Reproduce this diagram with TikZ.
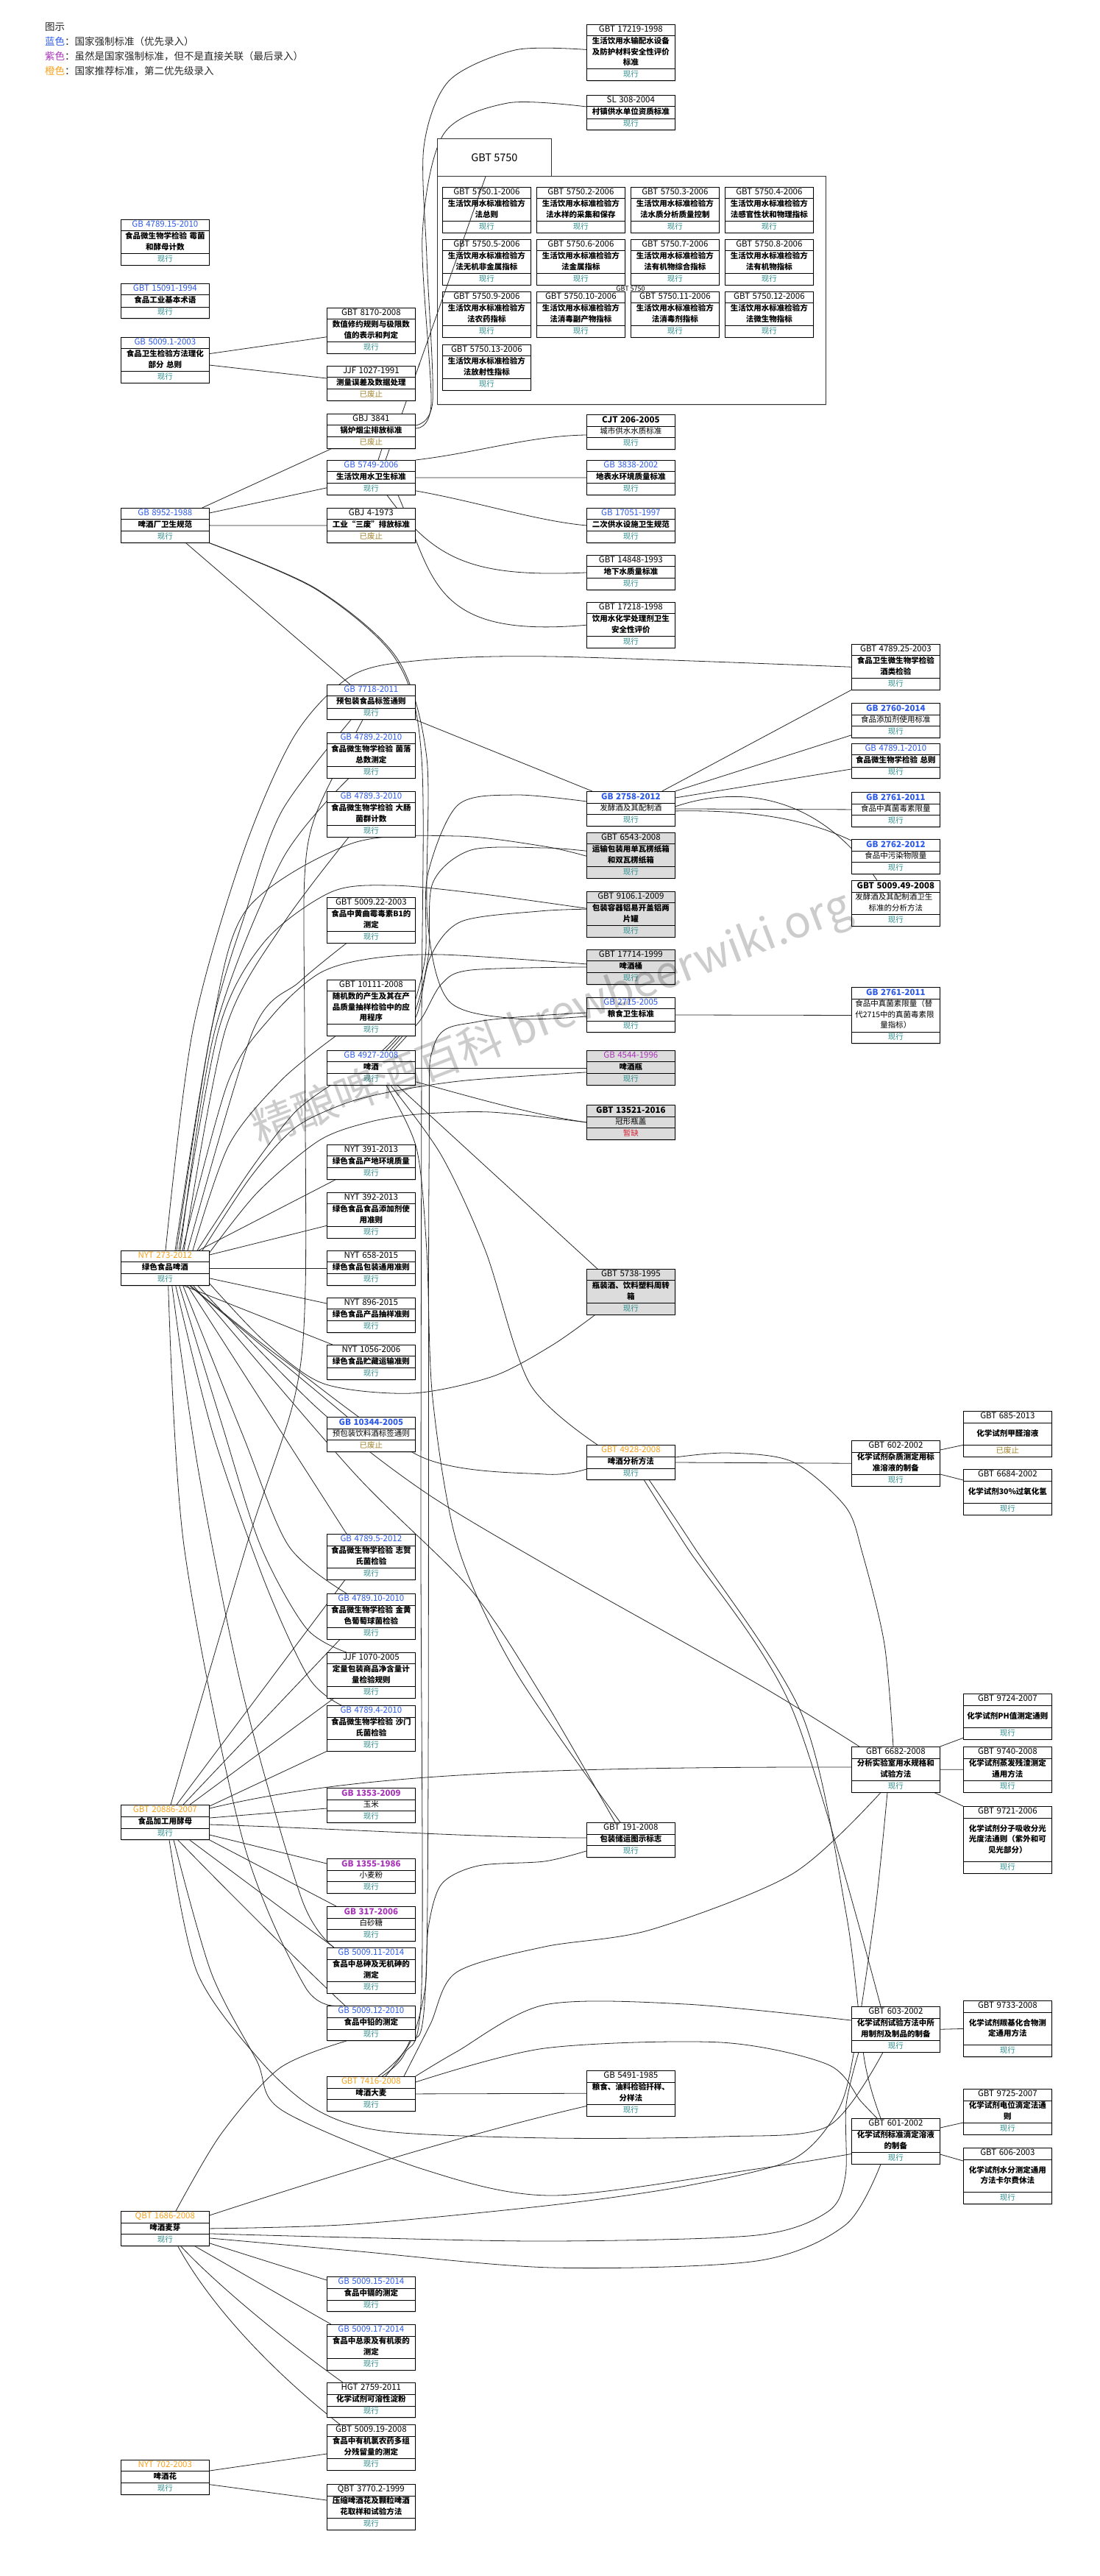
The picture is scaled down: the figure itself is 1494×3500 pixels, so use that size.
\documentclass[tikz,border=0pt]{standalone}
\usepackage{fontspec}
\setmainfont{Noto Sans CJK SC}
\usetikzlibrary{shapes.multipart,shadows,calc}

\definecolor{tblue}{HTML}{2E5BEA}
\definecolor{tpurple}{HTML}{A834B8}
\definecolor{torange}{HTML}{F5A11C}
\definecolor{steal}{HTML}{2B8C8C}
\definecolor{solive}{HTML}{A3842E}
\definecolor{sred}{HTML}{D62839}
\definecolor{pkggray}{HTML}{DCDCDC}

\pgfdeclarelayer{background}
\pgfdeclarelayer{foreground}
\pgfsetlayers{background,main,foreground}

\tikzset{
  stdbox/.style={rectangle split, rectangle split parts=3, draw=black, line width=0.7pt,
    fill=white, text width=110pt, inner xsep=5pt, inner ysep=1.6pt, align=center,
    anchor=north west, font=\fontsize{10.5}{14.5}\selectfont,
    drop shadow={shadow xshift=1pt, shadow yshift=-1.3pt, opacity=0.35}},
  pkgbox/.style={stdbox, fill=pkggray},
  groupbox/.style={draw=black!80, line width=0.8pt, fill=white, anchor=north west, inner sep=0pt,
    drop shadow={shadow xshift=1pt, shadow yshift=-1.3pt, opacity=0.3}},
  link/.style={draw=black!85, line width=0.8pt}
}

\newcommand{\st}{\rule[-3pt]{0pt}{9.8pt}}
\newcommand{\tf}{\fontsize{11.5}{14.5}\selectfont}
\newcommand{\tall}[1]{\rule{0pt}{16.5pt}#1\rule[-10pt]{0pt}{10pt}}
\newcommand{\bl}[1]{\textcolor{tblue}{#1}}
\newcommand{\pu}[1]{\textcolor{tpurple}{#1}}
\newcommand{\og}[1]{\textcolor{torange}{#1}}
\newcommand{\zx}{\textcolor{steal}{现行}}
\newcommand{\yfz}{\textcolor{solive}{已废止}}
\newcommand{\zq}{\textcolor{sred}{暂缺}}
\newcommand{\stdnode}[6][stdbox]{\node[#1] (#2) at (#3) {\tf\st#4\st\nodepart{two}\bfseries\st#5\st\nodepart{three}\raggedright\st#6\st};}
\newcommand{\plainnode}[6][stdbox]{\node[#1] (#2) at (#3) {\tf\bfseries\st#4\st\nodepart{two}\raggedright\st#5\st\nodepart{three}\raggedright\st#6\st};}

\begin{document}
\begin{tikzpicture}[x=1pt, y=-1pt]
\useasboundingbox (0,0) rectangle (1494,3500);

\node[anchor=north west, inner sep=0pt, align=left, text=black!85, font=\fontsize{13.5}{19.8}\selectfont] (legend) at (61,31)
  {图示\\\textcolor{tblue}{蓝色}：国家强制标准（优先录入）\\\textcolor{tpurple}{紫色}：虽然是国家强制标准，但不是直接关联（最后录入）\\\textcolor{torange}{橙色}：国家推荐标准，第二优先级录入};

\stdnode{gb478915}{164,298}{\bl{GB 4789.15-2010}}{食品微生物学检验~霉菌\\和酵母计数}{\zx}
\stdnode{gbt15091}{164,385}{\bl{GBT 15091-1994}}{食品工业基本术语}{\zx}
\stdnode{gb50091}{164,458}{\bl{GB 5009.1-2003}}{食品卫生检验方法理化\\部分~总则}{\zx}
\stdnode{gb8952}{164,690}{\bl{GB 8952-1988}}{啤酒厂卫生规范}{\zx}
\stdnode{nyt273}{164,1699}{\og{NYT 273-2012}}{绿色食品啤酒}{\zx}
\stdnode{gbt20886}{164,2452}{\og{GBT 20886-2007}}{食品加工用酵母}{\zx}
\stdnode{qbt1686}{164,3004}{\og{QBT 1686-2008}}{啤酒麦芽}{\zx}
\stdnode{nyt702}{164,3342}{\og{NYT 702-2003}}{啤酒花}{\zx}

\stdnode{gbt8170}{444,418}{GBT 8170-2008}{数值修约规则与极限数\\值的表示和判定}{\zx}
\stdnode{jjf1027}{444,497}{JJF 1027-1991}{测量误差及数据处理}{\yfz}
\stdnode{gbj3841}{444,562}{GBJ 3841}{锅炉烟尘排放标准}{\yfz}
\stdnode{gb5749}{444,625}{\bl{GB 5749-2006}}{生活饮用水卫生标准}{\zx}
\stdnode{gbj4}{444,690}{GBJ 4-1973}{工业“三废”排放标准}{\yfz}
\stdnode{gb7718}{444,930}{\bl{GB 7718-2011}}{预包装食品标签通则}{\zx}
\stdnode{gb47892}{444,995}{\bl{GB 4789.2-2010}}{食品微生物学检验~菌落\\总数测定}{\zx}
\stdnode{gb47893}{444,1075}{\bl{GB 4789.3-2010}}{食品微生物学检验~大肠\\菌群计数}{\zx}
\stdnode{gbt500922}{444,1219}{GBT 5009.22-2003}{食品中黄曲霉毒素B1的\\测定}{\zx}
\stdnode{gbt10111}{444,1331}{GBT 10111-2008}{随机数的产生及其在产\\品质量抽样检验中的应\\用程序}{\zx}
\stdnode{gb4927}{444,1427}{\bl{GB 4927-2008}}{啤酒}{\zx}
\stdnode{nyt391}{444,1555}{NYT 391-2013}{绿色食品产地环境质量}{\zx}
\stdnode{nyt392}{444,1620}{NYT 392-2013}{绿色食品食品添加剂使\\用准则}{\zx}
\stdnode{nyt658}{444,1699}{NYT 658-2015}{绿色食品包装通用准则}{\zx}
\stdnode{nyt896}{444,1763}{NYT 896-2015}{绿色食品产品抽样准则}{\zx}
\stdnode{nyt1056}{444,1827}{NYT 1056-2006}{绿色食品贮藏运输准则}{\zx}
\plainnode{gb10344}{444,1925}{\bl{GB 10344-2005}}{预包装饮料酒标签通则}{\yfz}
\stdnode{gb47895}{444,2084}{\bl{GB 4789.5-2012}}{食品微生物学检验~志贺\\氏菌检验}{\zx}
\stdnode{gb478910}{444,2165}{\bl{GB 4789.10-2010}}{食品微生物学检验~金黄\\色葡萄球菌检验}{\zx}
\stdnode{jjf1070}{444,2245}{JJF 1070-2005}{定量包装商品净含量计\\量检验规则}{\zx}
\stdnode{gb47894}{444,2317}{\bl{GB 4789.4-2010}}{食品微生物学检验~沙门\\氏菌检验}{\zx}
\plainnode{gb1353}{444,2429}{\pu{GB 1353-2009}}{玉米}{\zx}
\plainnode{gb1355}{444,2525}{\pu{GB 1355-1986}}{小麦粉}{\zx}
\plainnode{gb317}{444,2590}{\pu{GB 317-2006}}{白砂糖}{\zx}
\stdnode{gb500911}{444,2646}{\bl{GB 5009.11-2014}}{食品中总砷及无机砷的\\测定}{\zx}
\stdnode{gb500912}{444,2725}{\bl{GB 5009.12-2010}}{食品中铅的测定}{\zx}
\stdnode{gbt7416}{444,2821}{\og{GBT 7416-2008}}{啤酒大麦}{\zx}
\stdnode{gb500915}{444,3093}{\bl{GB 5009.15-2014}}{食品中镉的测定}{\zx}
\stdnode{gb500917}{444,3158}{\bl{GB 5009.17-2014}}{食品中总汞及有机汞的\\测定}{\zx}
\stdnode{hgt2759}{444,3237}{HGT 2759-2011}{化学试剂可溶性淀粉}{\zx}
\stdnode{gbt500919}{444,3294}{GBT 5009.19-2008}{食品中有机氯农药多组\\分残留量的测定}{\zx}
\stdnode{qbt37702}{444,3375}{QBT 3770.2-1999}{压缩啤酒花及颗粒啤酒\\花取样和试验方法}{\zx}

\stdnode{gbt17219}{797,33}{GBT 17219-1998}{生活饮用水输配水设备\\及防护材料安全性评价\\标准}{\zx}
\stdnode{sl308}{797,129}{SL 308-2004}{村镇供水单位资质标准}{\zx}
\node[groupbox, minimum width=155pt, minimum height=51pt, font=\fontsize{14.5}{14.5}\selectfont] (gbt5750) at (594,188) {GBT 5750};
\node[groupbox, minimum width=528pt, minimum height=310pt] (g5750) at (594,239) {};
\node[font=\fontsize{9}{9}\selectfont] (g5750lbl) at (857,392) {GBT 5750};
\stdnode{g57501}{601,254}{GBT 5750.1-2006}{生活饮用水标准检验方\\法总则}{\zx}
\stdnode{g57502}{729,254}{GBT 5750.2-2006}{生活饮用水标准检验方\\法水样的采集和保存}{\zx}
\stdnode{g57503}{857,254}{GBT 5750.3-2006}{生活饮用水标准检验方\\法水质分析质量控制}{\zx}
\stdnode{g57504}{985,254}{GBT 5750.4-2006}{生活饮用水标准检验方\\法感官性状和物理指标}{\zx}
\stdnode{g57505}{601,325}{GBT 5750.5-2006}{生活饮用水标准检验方\\法无机非金属指标}{\zx}
\stdnode{g57506}{729,325}{GBT 5750.6-2006}{生活饮用水标准检验方\\法金属指标}{\zx}
\stdnode{g57507}{857,325}{GBT 5750.7-2006}{生活饮用水标准检验方\\法有机物综合指标}{\zx}
\stdnode{g57508}{985,325}{GBT 5750.8-2006}{生活饮用水标准检验方\\法有机物指标}{\zx}
\stdnode{g57509}{601,396}{GBT 5750.9-2006}{生活饮用水标准检验方\\法农药指标}{\zx}
\stdnode{g575010}{729,396}{GBT 5750.10-2006}{生活饮用水标准检验方\\法消毒副产物指标}{\zx}
\stdnode{g575011}{857,396}{GBT 5750.11-2006}{生活饮用水标准检验方\\法消毒剂指标}{\zx}
\stdnode{g575012}{985,396}{GBT 5750.12-2006}{生活饮用水标准检验方\\法微生物指标}{\zx}
\stdnode{g575013}{601,468}{GBT 5750.13-2006}{生活饮用水标准检验方\\法放射性指标}{\zx}
\plainnode{cjt206}{797,563}{CJT 206-2005}{城市供水水质标准}{\zx}
\stdnode{gb3838}{797,625}{\bl{GB 3838-2002}}{地表水环境质量标准}{\zx}
\stdnode{gb17051}{797,690}{\bl{GB 17051-1997}}{二次供水设施卫生规范}{\zx}
\stdnode{gbt14848}{797,754}{GBT 14848-1993}{地下水质量标准}{\zx}
\stdnode{gbt17218}{797,818}{GBT 17218-1998}{饮用水化学处理剂卫生\\安全性评价}{\zx}
\plainnode{gb2758}{797,1075}{\bl{GB 2758-2012}}{发酵酒及其配制酒}{\zx}
\stdnode[pkgbox]{gbt6543}{797,1131}{GBT 6543-2008}{运输包装用单瓦楞纸箱\\和双瓦楞纸箱}{\zx}
\stdnode[pkgbox]{gbt9106}{797,1211}{GBT 9106.1-2009}{包装容器铝易开盖铝两\\片罐}{\zx}
\stdnode[pkgbox]{gbt17714}{797,1290}{GBT 17714-1999}{啤酒桶}{\zx}
\stdnode{gb2715}{797,1355}{\bl{GB 2715-2005}}{粮食卫生标准}{\zx}
\stdnode[pkgbox]{gb4544}{797,1427}{\pu{GB 4544-1996}}{啤酒瓶}{\zx}
\plainnode[pkgbox]{gbt13521}{797,1501}{GBT 13521-2016}{冠形瓶盖}{\zq}
\stdnode[pkgbox]{gbt5738}{797,1724}{GBT 5738-1995}{瓶装酒、饮料塑料周转\\箱}{\zx}
\stdnode{gbt4928}{797,1963}{\og{GBT 4928-2008}}{啤酒分析方法}{\zx}
\stdnode{gbt191}{797,2476}{GBT 191-2008}{包装储运图示标志}{\zx}
\stdnode{gb5491}{797,2813}{GB 5491-1985}{粮食、油料检验扦样、\\分样法}{\zx}

\stdnode{gbt478925}{1157,875}{GBT 4789.25-2003}{食品卫生微生物学检验\\酒类检验}{\zx}
\plainnode{gb2760}{1157,955}{\bl{GB 2760-2014}}{食品添加剂使用标准}{\zx}
\stdnode{gb47891}{1157,1010}{\bl{GB 4789.1-2010}}{食品微生物学检验~总则}{\zx}
\plainnode{gb2761}{1157,1076}{\bl{GB 2761-2011}}{食品中真菌毒素限量}{\zx}
\plainnode{gb2762}{1157,1140}{\bl{GB 2762-2012}}{食品中污染物限量}{\zx}
\plainnode{gbt500949}{1157,1196}{GBT 5009.49-2008}{发酵酒及其配制酒卫生\\标准的分析方法}{\zx}
\plainnode{gb2761b}{1157,1341}{\bl{GB 2761-2011}}{食品中真菌素限量（替\\代2715中的真菌毒素限\\量指标）}{\zx}
\stdnode{gbt602}{1157,1957}{GBT 602-2002}{化学试剂杂质测定用标\\准溶液的制备}{\zx}
\stdnode{gbt6682}{1157,2373}{GBT 6682-2008}{分析实验室用水规格和\\试验方法}{\zx}
\stdnode{gbt603}{1157,2726}{GBT 603-2002}{化学试剂试验方法中所\\用制剂及制品的制备}{\zx}
\stdnode{gbt601}{1157,2878}{GBT 601-2002}{化学试剂标准滴定溶液\\的制备}{\zx}

\stdnode{gbt685}{1309,1917}{GBT 685-2013}{\tall{化学试剂甲醛溶液}}{\yfz}
\stdnode{gbt6684}{1309,1996}{GBT 6684-2002}{\tall{化学试剂30\%过氧化氢}}{\zx}
\stdnode{gbt9724}{1309,2301}{GBT 9724-2007}{\tall{化学试剂PH值测定通则}}{\zx}
\stdnode{gbt9740}{1309,2373}{GBT 9740-2008}{化学试剂蒸发残渣测定\\通用方法}{\zx}
\stdnode{gbt9721}{1309,2454}{GBT 9721-2006}{\tall{化学试剂分子吸收分光\\光度法通则（紫外和可\\见光部分）}}{\zx}
\stdnode{gbt9733}{1309,2718}{GBT 9733-2008}{\tall{化学试剂羰基化合物测\\定通用方法}}{\zx}
\stdnode{gbt9725}{1309,2838}{GBT 9725-2007}{化学试剂电位滴定法通\\则}{\zx}
\stdnode{gbt606}{1309,2918}{GBT 606-2003}{\tall{化学试剂水分测定通用\\方法卡尔费休法}}{\zx}

\begin{pgfonlayer}{background}
\draw[link] (gb50091) -- (gbt8170);
\draw[link] (gb50091) -- (jjf1027);
\draw[link] ([xshift=-10pt]gb8952.north east) -- ([xshift=6pt]gbj3841.south west);
\draw[link] ([yshift=-7pt]gb8952.north east) -- ([yshift=10pt]gb5749.south west);
\draw[link] (gb8952.east) -- (gbj4.west);
\draw[link] ([xshift=-32pt]gb8952.south east) -- ([xshift=32pt]gb7718.north west);
\draw[link] plot[smooth] coordinates {(gb8952.south east) (430,800) (540,895) (580,1030) (581,1250) (610,1360) (700,1384) ([yshift=-2pt]gb2715.west)};
\draw[link] plot[smooth] coordinates {(gb8952.south east) (430,801) (538,896) (573,1030) (573,1400) (572,2100) (573,2700) (550,2790) ([xshift=75pt]gbt7416.north west)};
\draw[link] plot[smooth] coordinates {([yshift=8pt]gbj3841.east) (588,545) (580,350) (576,200) (610,110) (700,68) ([yshift=4pt]gbt17219.west)};
\draw[link] plot[smooth] coordinates {([yshift=4pt]gbj3841.east) (586,548) (574,320) (603,182) (690,140) ([yshift=8pt]sl308.west)};
\draw[link] ([xshift=75pt]gbj3841.south west) -- ([xshift=70pt]gb5749.north west);
\coordinate (l5749) at ([xshift=80pt]gb5749.north west);
\coordinate (l5750) at ([xshift=66pt]gbt5750.south west);
\draw[link] (l5749) -- ($(l5749)!0.34!(l5750)$);
\draw[link] (gb5749.north east) .. controls (650,615) and (720,592) .. ([yshift=-28pt]cjt206.north west);
\draw[link] (gb5749.east) -- (gb3838.west);
\draw[link] ([yshift=6pt]gb5749.south east) .. controls (650,682) and (730,708) .. (gb17051.west);
\draw[link] ([xshift=82pt]gb5749.south west) .. controls (590,760) and (640,785) .. (gbt14848.west);
\draw[link] ([xshift=97pt]gb5749.south west) .. controls (590,785) and (585,868) .. (gbt17218.west);

\draw[link] (gb7718.south east) -- ([xshift=8pt]gb2758.north west);
\draw[link] ([xshift=-18pt]gb2758.north east) -- (gbt478925.south west);
\draw[link] (gb2758.north east) -- ([yshift=4pt]gb2760.south west);
\draw[link] ([yshift=-9pt]gb2758.north east) -- ([yshift=13pt]gb47891.south west);
\draw[link] (gb2758.east) -- (gb2761.west);
\draw[link] ([yshift=-3pt]gb2758.east) .. controls (1030,1100) and (1100,1115) .. ([yshift=-2pt]gb2762.north west);
\draw[link] ([yshift=3pt]gb2758.east) .. controls (1000,1068) and (1110,1075) .. ([xshift=35pt]gbt500949.north west);
\draw[link] (gb2715.east) -- (gb2761b.west);

\draw[link] plot[smooth] coordinates {([xshift=76pt]gb4927.north west) (555,1385) (578,1300) (581,1190) (622,1094) (700,1080) ([yshift=10pt]gb2758.west)};
\draw[link] plot[smooth] coordinates {([xshift=81pt]gb4927.north west) (561,1382) (582,1300) (588,1200) (640,1155) (740,1152) ([yshift=6pt]gbt6543.west)};
\draw[link] plot[smooth] coordinates {([xshift=86pt]gb4927.north west) (566,1380) (585,1300) (627,1252) (733,1238) ([yshift=7pt]gbt9106.west)};
\draw[link] plot[smooth] coordinates {([xshift=91pt]gb4927.north west) (572,1385) (600,1337) (640,1318) (gbt17714.west)};
\draw[link] (gb4927.east) -- (gb4544.west);
\draw[link] ([yshift=5pt]gb4927.south east) .. controls (640,1490) and (720,1514) .. (gbt13521.west);
\draw[link] ([xshift=96pt]gb4927.south west) -- ([xshift=15pt]gbt5738.north west);
\draw[link] plot[smooth] coordinates {([xshift=87pt]gb4927.south west) (600,1570) (660,1700) (720,1880) ([xshift=15pt]gbt4928.north west)};
\draw[link] plot[smooth] coordinates {([xshift=81pt]gb4927.south west) (566,1560) (580,1700) (588,1900) (622,2100) (700,2270) ([xshift=46pt]gbt191.north west)};

\draw[link] plot[smooth] coordinates {([xshift=61pt]nyt273.north west) (262,1400) (330,1160) (400,1000) (478,918) (574,897) (750,892) (gbt478925.west)};
\draw[link] plot[smooth] coordinates {([xshift=76pt]nyt273.north west) (287,1400) (335,1236) (383,1102) ([xshift=33pt]gb7718.south west)};
\draw[link] plot[smooth] coordinates {([xshift=81pt]nyt273.north west) (292,1400) (383,1169) ([xshift=30pt]gb47892.south west)};
\draw[link] plot[smooth] coordinates {([xshift=86pt]nyt273.north west) (306,1400) (383,1258) ([xshift=30pt]gb47893.south west)};
\draw[link] plot[smooth] coordinates {([xshift=91pt]nyt273.north west) (344,1400) (407,1334) ([xshift=27pt]gbt500922.south west)};
\draw[link] plot[smooth] coordinates {([xshift=98pt]nyt273.north west) (311,1556) (383,1467) ([xshift=12pt]gbt10111.south west)};
\draw[link] plot[smooth] coordinates {([xshift=104pt]nyt273.north west) (340,1590) (400,1512) ([xshift=5pt]gb4927.south west)};
\draw[link] plot[smooth] coordinates {([xshift=74pt]nyt273.north west) (287,1400) (335,1236) (478,1146) (622,1136) (740,1150) ([yshift=-1pt]gbt6543.west)};
\draw[link] plot[smooth] coordinates {([xshift=79pt]nyt273.north west) (297,1400) (359,1280) (450,1212) (533,1203) (650,1214) ([yshift=8pt]gbt9106.west)};
\draw[link] plot[smooth] coordinates {([xshift=84pt]nyt273.north west) (310,1470) (370,1380) (433,1323) (500,1303) (600,1297) ([yshift=4pt]gbt17714.west)};
\draw[link] plot[smooth] coordinates {([xshift=111pt]nyt273.north west) (340,1600) (400,1533) (467,1500) (533,1483) (633,1468) ([yshift=-6pt]gb4544.west)};
\draw[link] plot[smooth] coordinates {([yshift=-3pt]nyt273.north east) (350,1620) (433,1550) (500,1525) (567,1514) (667,1511) (gbt13521.west)};
\draw[link] ([xshift=-15pt]nyt273.north east) -- ([xshift=12pt]nyt391.south west);
\draw[link] ([yshift=-6pt]nyt273.north east) -- ([yshift=17pt]nyt392.south west);
\draw[link] (nyt273.east) -- (nyt658.west);
\draw[link] ([yshift=10pt]nyt273.south east) -- ([yshift=-8pt]nyt896.north west);
\draw[link] ([xshift=-35pt]nyt273.south east) -- ([xshift=8pt]nyt1056.north west);
\draw[link] ([xshift=-27pt]nyt273.south east) -- ([xshift=28pt]gb10344.north west);
\draw[link] plot[smooth] coordinates {([yshift=3pt]nyt273.south east) (359,1822) (440,1880) (560,1893) (670,1870) (750,1828) ([xshift=12pt]gbt5738.south west)};
\draw[link] plot[smooth] coordinates {([xshift=-16pt]nyt273.south east) (431,1913) (574,2025) (740,2125) (1028,2287) ([xshift=11pt]gbt6682.north west)};
\draw[link] plot[smooth] coordinates {([xshift=-22pt]nyt273.south east) (480,2000) (640,2160) (740,2310) ([xshift=39pt]gbt191.north west)};
\draw[link] plot[smooth] coordinates {([xshift=-26pt]nyt273.south east) (383,1846) (574,1980) (740,2003) ([yshift=-9pt]gbt4928.west)};
\draw[link] ([xshift=-30pt]nyt273.south east) -- ([xshift=27pt]gb47895.north west);
\draw[link] plot[smooth] coordinates {([xshift=-36pt]nyt273.south east) (330,1950) (392,2100) ([xshift=27pt]gb478910.north west)};
\draw[link] plot[smooth] coordinates {([xshift=-41pt]nyt273.south east) (300,1930) (354,2100) (416,2212) ([xshift=27pt]jjf1070.north west)};
\draw[link] plot[smooth] coordinates {([xshift=-46pt]nyt273.south east) (290,1950) (360,2150) (420,2280) ([xshift=20pt]gb47894.north west)};
\draw[link] plot[smooth] coordinates {([xshift=-51pt]nyt273.south east) (270,2000) (330,2300) (410,2580) ([xshift=10pt]gb500911.north west)};
\draw[link] plot[smooth] coordinates {([xshift=-56pt]nyt273.south east) (250,2100) (330,2500) (415,2700) ([xshift=20pt]gb500912.north west)};

\draw[link] plot[smooth] coordinates {([xshift=68pt]gbt20886.north west) (335,2100) (400,1900) (415,1750) (414,1400) (414,1191) (431,1102) ([xshift=49pt]gb7718.south west)};
\draw[link] ([xshift=76pt]gbt20886.north west) -- ([xshift=25pt]gb47895.south west);
\draw[link] ([xshift=85pt]gbt20886.north west) -- ([xshift=18pt]gb478910.south west);
\draw[link] ([xshift=94pt]gbt20886.north west) -- ([xshift=10pt]jjf1070.south west);
\draw[link] ([yshift=-2pt]gbt20886.north east) -- (gb47894.south west);
\draw[link] ([yshift=-18pt]gbt20886.north east) -- ([yshift=-28pt]gb1353.north west);
\draw[link] ([yshift=-5pt]gbt20886.north east) .. controls (450,2418) and (650,2400) .. ([yshift=-28pt]gbt6682.north west);
\draw[link] ([yshift=-27pt]gbt20886.north east) .. controls (500,2486) and (650,2497) .. ([yshift=-21pt]gbt191.north west);
\draw[link] ([yshift=7pt]gbt20886.south east) -- ([yshift=-7pt]gb1355.north west);
\draw[link] (gbt20886.south east) -- ([xshift=13pt]gb317.north west);
\draw[link] ([xshift=-27pt]gbt20886.south east) -- ([xshift=10pt]gb500911.north west);
\draw[link] ([xshift=-43pt]gbt20886.south east) .. controls (300,2560) and (420,2680) .. ([xshift=25pt]gb500912.north west);
\draw[link] plot[smooth] coordinates {([xshift=66pt]gbt20886.south west) (268,2680) (354,2800) (431,2867) (526,2896) (750,2905) (980,2903) (1125,2889) ([xshift=43pt]gbt603.south west)};
\draw[link] plot[smooth] coordinates {([xshift=72pt]gbt20886.south west) (287,2680) (349,2800) (383,2867) (574,2947) (750,2983) (1028,2947) ([yshift=14pt]gbt601.south west)};

\draw[link] plot[smooth] coordinates {([xshift=75pt]qbt1686.north west) (300,2900) (380,2810) ([xshift=27pt]gb500912.south west)};
\draw[link] ([yshift=-6pt]qbt1686.north east) .. controls (450,2956) and (650,2895) .. ([yshift=14pt]gb5491.south west);
\draw[link] plot[smooth] coordinates {(qbt1686.east) (480,3022) (750,2996) (932,2970) (1077,2934) (1139,2867) (1162,2780) (1190,2591) ([xshift=49pt]gbt6682.south west)};
\draw[link] plot[smooth] coordinates {([yshift=-7pt]qbt1686.east) (478,3040) (750,3045) (1028,3037) (1125,3005) (1149,2956) (1150,2860) ([xshift=10pt]gbt603.south west)};
\draw[link] plot[smooth] coordinates {([yshift=-13pt]qbt1686.east) (478,3058) (750,3081) (1028,3072) (1149,3023) ([xshift=40pt]gbt601.south west)};
\draw[link] ([yshift=4pt]qbt1686.south east) -- ([yshift=-5pt]gb500915.north west);
\draw[link] ([xshift=-20pt]qbt1686.south east) -- ([xshift=6pt]gb500917.north west);
\draw[link] ([xshift=-39pt]qbt1686.south east) .. controls (300,3110) and (400,3190) .. ([xshift=22pt]hgt2759.north west);
\draw[link] ([xshift=-43pt]qbt1686.south east) .. controls (290,3140) and (380,3230) .. ([xshift=18pt]gbt500919.north west);
\draw[link] ([yshift=-15pt]nyt702.north east) -- ([yshift=-40pt]gbt500919.north west);
\draw[link] ([yshift=14pt]nyt702.south east) -- ([yshift=-22pt]qbt37702.north west);

\draw[link] (gbt7416.east) -- (gb5491.west);
\draw[link] plot[smooth] coordinates {([xshift=70pt]gbt7416.north west) (556,2775) (580,2650) (583,1600) (590,1420) (650,1388) ([yshift=3pt]gb2715.west)};
\draw[link] plot[smooth] coordinates {(gbt7416.north east) (620,2788) (740,2724) (932,2723) ([yshift=-19pt]gbt603.north west)};
\draw[link] plot[smooth] coordinates {([yshift=-8pt]gbt7416.north east) (740,2783) (980,2775) (1125,2805) (1170,2855) ([xshift=35pt]gbt601.north west)};
\draw[link] plot[smooth] coordinates {([xshift=80pt]gbt7416.north west) (560,2770) (578,2700) (582,2620) (600,2560) (650,2535) (740,2529) ([yshift=9pt]gbt191.south west)};
\draw[link] plot[smooth] coordinates {([xshift=40pt]gbt6682.south west) (1077,2546) (884,2622) (740,2645) (620,2680) (585,2750) ([xshift=105pt]gbt7416.north west)};

\draw[link] (gbt4928.east) -- (gbt602.west);
\draw[link] plot[smooth] coordinates {([yshift=7pt]gbt4928.east) (990,1974) (1077,1986) (1149,2047) (1172,2110) (1202,2234) ([xshift=57pt]gbt6682.north west)};
\draw[link] plot[smooth] coordinates {([xshift=18pt]gbt4928.south) (932,2100) (1077,2323) ([xshift=40pt]gbt603.north west)};
\draw[link] plot[smooth] coordinates {([xshift=25pt]gbt4928.south) (942,2100) (1090,2330) (1150,2600) (1175,2800) ([xshift=40pt]gbt601.north west)};
\draw[link] ([yshift=-13pt]gbt602.north east) -- ([yshift=16pt]gbt685.south west);
\draw[link] ([yshift=-46pt]gbt602.north east) -- ([yshift=-15pt]gbt6684.north west);
\draw[link] (gbt6682.north east) -- ([yshift=2pt]gbt9724.south west);
\draw[link] (gbt6682.east) -- (gbt9740.west);
\draw[link] ([xshift=-8pt]gbt6682.south east) -- (gbt9721.north west);
\draw[link] (gbt603.east) -- (gbt9733.west);
\draw[link] ([yshift=-13pt]gbt601.north east) -- ([yshift=-46pt]gbt9725.north west);
\draw[link] ([yshift=-49pt]gbt601.north east) -- ([yshift=-18pt]gbt606.north west);
\end{pgfonlayer}

\begin{pgfonlayer}{foreground}
\draw[link] ($(l5749)!0.33!(l5750)$) -- (l5750);
\node[rotate=21, text=black, text opacity=0.2, font=\fontsize{60}{60}\selectfont] (wmark) at (750,1385) {精酿啤酒百科 brewbeerwiki.org};
\end{pgfonlayer}
\end{tikzpicture}
\end{document}
